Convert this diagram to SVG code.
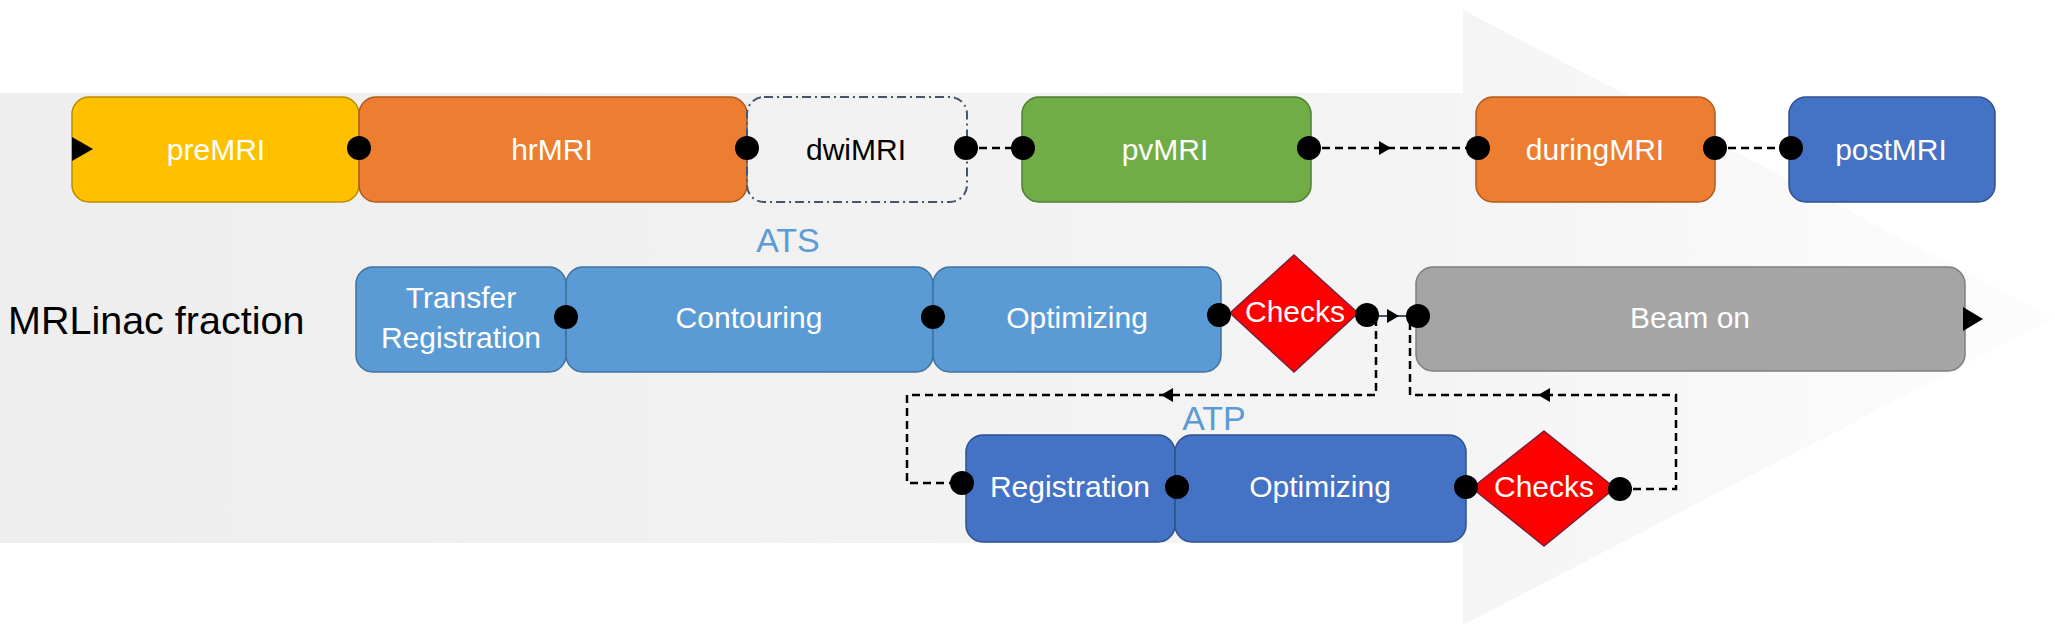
<svg xmlns="http://www.w3.org/2000/svg" width="2055" height="630" viewBox="0 0 2055 630">
<style>
.t{font-family:"Liberation Sans",Arial,sans-serif;font-size:30px;fill:#ffffff;text-anchor:middle}
.box{stroke-width:1.5}
.dot{fill:#000000}
.dash{fill:none;stroke:#000000;stroke-width:2.5;stroke-dasharray:8 5}
.ah{fill:#000000}
.lbl{font-family:"Liberation Sans",Arial,sans-serif;font-size:34px;fill:#5B9BD5;text-anchor:middle}
</style>
<defs>
<linearGradient id="bg" x1="0" y1="0" x2="2055" y2="0" gradientUnits="userSpaceOnUse">
<stop offset="0" stop-color="#EFEEEE"/>
<stop offset="0.7" stop-color="#F5F4F4"/>
<stop offset="1" stop-color="#FDFDFD"/>
</linearGradient>
</defs>
<rect width="2055" height="630" fill="#FFFFFF"/>
<path d="M0,93 H1463 V10 L2055,318 L1463,625 V543 H0 Z" fill="url(#bg)"/>

<text x="8" y="334" font-family="'Liberation Sans',Arial,sans-serif" font-size="39.5" fill="#000000">MRLinac fraction</text>
<text class="lbl" x="788" y="252">ATS</text>
<text class="lbl" x="1214" y="430">ATP</text>

<g id="preMRI">
<rect class="box" x="72" y="97" width="287" height="105" rx="17" fill="#FFC000" stroke="#BC8C00"/>
<text class="t" x="216" y="160" fill="#FFFFF0">preMRI</text>
</g>
<g id="hrMRI">
<rect class="box" x="359" y="97" width="388" height="105" rx="17" fill="#ED7D31" stroke="#AE5A21"/>
<text class="t" x="552" y="160">hrMRI</text>
</g>
<g id="dwiMRI">
<rect x="747" y="97" width="220" height="105" rx="17" fill="none" stroke="#44546A" stroke-width="2" stroke-dasharray="9 4 2 4"/>
<text class="t" x="856" y="160" style="fill:#000000">dwiMRI</text>
</g>
<g id="pvMRI">
<rect class="box" x="1022" y="97" width="289" height="105" rx="17" fill="#70AD47" stroke="#507E32"/>
<text class="t" x="1165" y="160">pvMRI</text>
</g>
<g id="duringMRI">
<rect class="box" x="1476" y="97" width="239" height="105" rx="17" fill="#ED7D31" stroke="#AE5A21"/>
<text class="t" x="1595" y="160">duringMRI</text>
</g>
<g id="postMRI">
<rect class="box" x="1789" y="97" width="206" height="105" rx="17" fill="#4472C4" stroke="#2F528F"/>
<text class="t" x="1891" y="160">postMRI</text>
</g>

<g id="transferRegistration">
<rect class="box" x="356" y="267" width="210" height="105" rx="17" fill="#5B9BD5" stroke="#41719C"/>
<text class="t" x="461" y="308">Transfer</text>
<text class="t" x="461" y="348">Registration</text>
</g>
<g id="contouring">
<rect class="box" x="566" y="267" width="367" height="105" rx="17" fill="#5B9BD5" stroke="#41719C"/>
<text class="t" x="749" y="328">Contouring</text>
</g>
<g id="optimizingATS">
<rect class="box" x="933" y="267" width="288" height="105" rx="17" fill="#5B9BD5" stroke="#41719C"/>
<text class="t" x="1077" y="328">Optimizing</text>
</g>
<g id="checksATS">
<polygon class="box" points="1294,255 1358,313 1294,372 1230,313" fill="#FF0000" stroke="#7A1F3D"/>
<text class="t" x="1295" y="322">Checks</text>
</g>
<g id="beamOn">
<rect class="box" x="1416" y="267" width="549" height="104" rx="17" fill="#A5A5A5" stroke="#7F7F7F"/>
<text class="t" x="1690" y="328">Beam on</text>
</g>

<g id="registrationATP">
<rect class="box" x="966" y="435" width="209" height="107" rx="17" fill="#4472C4" stroke="#2F528F"/>
<text class="t" x="1070" y="497">Registration</text>
</g>
<g id="optimizingATP">
<rect class="box" x="1175" y="435" width="291" height="107" rx="17" fill="#4472C4" stroke="#2F528F"/>
<text class="t" x="1320" y="497">Optimizing</text>
</g>
<g id="checksATP">
<polygon class="box" points="1544,431 1615,488 1544,546 1472,488" fill="#FF0000" stroke="#7A1F3D"/>
<text class="t" x="1544" y="497">Checks</text>
</g>

<g id="connectors">
<polygon class="ah" points="72,137 93,149 72,161"/>
<polygon class="ah" points="1963,307 1983,319 1963,331"/>
<line class="dash" x1="966" y1="148" x2="1023" y2="148"/>
<line class="dash" x1="1309" y1="148" x2="1478" y2="148"/>
<polygon class="ah" points="1379,141 1391,148 1379,155"/>
<line class="dash" x1="1715" y1="148" x2="1791" y2="148"/>
<line x1="1367" y1="316" x2="1418" y2="316" stroke="#44546A" stroke-width="2"/>
<polygon class="ah" points="1387,309 1399,316 1387,323"/>
<polyline class="dash" points="1376,318 1376,395 907,395 907,483 962,483"/>
<polygon class="ah" points="1173,388 1161,395 1173,402"/>
<polyline class="dash" points="1620,489 1676,489 1676,395 1410,395 1410,318"/>
<polygon class="ah" points="1550,388 1538,395 1550,402"/>
<circle class="dot" cx="359" cy="148" r="12"/>
<circle class="dot" cx="747" cy="148" r="12"/>
<circle class="dot" cx="966" cy="148" r="12"/>
<circle class="dot" cx="1023" cy="148" r="12"/>
<circle class="dot" cx="1309" cy="148" r="12"/>
<circle class="dot" cx="1478" cy="148" r="12"/>
<circle class="dot" cx="1715" cy="148" r="12"/>
<circle class="dot" cx="1791" cy="148" r="12"/>
<circle class="dot" cx="566" cy="317" r="12"/>
<circle class="dot" cx="933" cy="317" r="12"/>
<circle class="dot" cx="1219" cy="315" r="12"/>
<circle class="dot" cx="1367" cy="315" r="12"/>
<circle class="dot" cx="1418" cy="316" r="12"/>
<circle class="dot" cx="962" cy="483" r="12"/>
<circle class="dot" cx="1177" cy="487" r="12"/>
<circle class="dot" cx="1466" cy="487" r="12"/>
<circle class="dot" cx="1620" cy="489" r="12"/>
</g>
</svg>
